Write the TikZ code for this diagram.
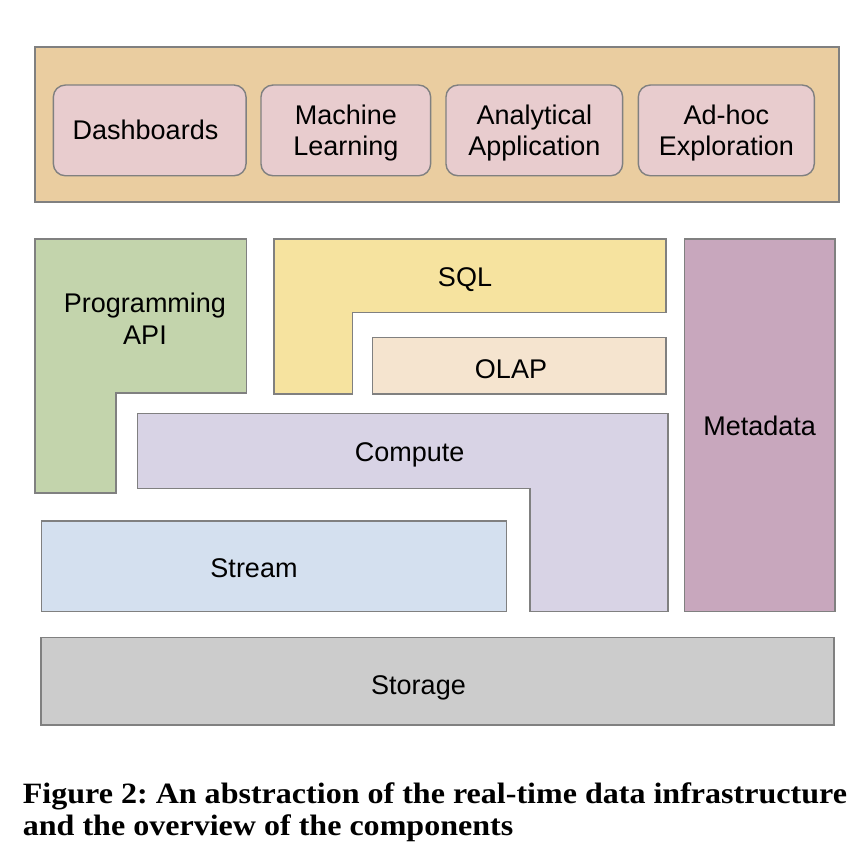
\documentclass[tikz,border=0pt]{standalone}
\usepackage{fontspec}
\setmainfont{Liberation Sans}
\newfontfamily\capfont{Liberation Serif}
\usepackage{graphicx}
\definecolor{edgegray}{HTML}{808080}
\definecolor{topfill}{HTML}{EACDA0}
\definecolor{appfill}{HTML}{E8CCCE}
\definecolor{apifill}{HTML}{C3D4AC}
\definecolor{sqlfill}{HTML}{F6E39F}
\definecolor{olapfill}{HTML}{F5E4CF}
\definecolor{compfill}{HTML}{D8D3E5}
\definecolor{streamfill}{HTML}{D4E0EF}
\definecolor{metafill}{HTML}{C8A7BD}
\definecolor{storfill}{HTML}{CCCCCC}
\newcommand\twoline[2]{\begin{tabular}[t]{@{}c@{}}#1\\#2\end{tabular}}
\tikzset{
  layer/.style={draw=edgegray, line width=1.4pt, line join=miter},
  appbox/.style={draw=edgegray, line width=1.4pt, fill=appfill, rectangle,
    rounded corners=12pt, minimum height=90.7pt, inner sep=0pt},
  lbl/.style={anchor=base, inner sep=0pt, text=black,
    font=\fontsize{27}{31.7}\selectfont},
}
\begin{document}
\begin{tikzpicture}[x=1pt,y=-1pt]
\useasboundingbox (0,0) rectangle (864,858);
% top application layer
\draw[layer, fill=topfill] (35,47) rectangle (839,202);
\node[appbox, minimum width=192.7pt] (dash) at (149.7,130.4) {};
\node[appbox, minimum width=169.7pt] (ml) at (345.8,130.4) {};
\node[appbox, minimum width=176.7pt] (aa) at (534.3,130.4) {};
\node[appbox, minimum width=176pt] (ae) at (726.3,130.4) {};
\node[lbl] (dasht) at (145.5,140) {Dashboards};
\node[lbl] (mlt) at (345.8,124.3) {\twoline{Machine}{Learning}};
\node[lbl] (aat) at (534.3,124.3) {\twoline{Analytical}{Application}};
\node[lbl] (aet) at (726.3,124.3) {\twoline{Ad-hoc}{Exploration}};
% programming API (L shape)
\draw[layer, fill=apifill] (35,239) -- (246.5,239) -- (246.5,393) -- (116,393)
  -- (116,493) -- (35,493) -- cycle;
\node[lbl] (apit) at (145,312.7) {\twoline{Programming}{API}};
% SQL (L shape)
\draw[layer, fill=sqlfill] (274,239) -- (666,239) -- (666,312.3) -- (352.7,312.3)
  -- (352.7,394) -- (274,394) -- cycle;
\node[lbl] (sqlt) at (465,286.7) {SQL};
% OLAP
\draw[layer, fill=olapfill] (372.7,337.7) rectangle (666,394);
\node[lbl] (olapt) at (511,378) {OLAP};
% Compute (L shape)
\draw[layer, fill=compfill] (137.3,413.3) -- (668,413.3) -- (668,611.7) -- (530,611.7)
  -- (530,488.7) -- (137.3,488.7) -- cycle;
\node[lbl] (compt) at (409.6,461) {Compute};
% Stream
\draw[layer, fill=streamfill] (41.3,521) rectangle (506.4,611.7);
\node[lbl] (streamt) at (254,577) {Stream};
% Metadata
\draw[layer, fill=metafill] (684.5,239) rectangle (835,611.7);
\node[lbl] (metat) at (759.7,435) {Metadata};
% Storage
\draw[layer, fill=storfill] (40.8,637.5) rectangle (834,725);
\node[lbl] (stort) at (418.5,694) {Storage};
% caption
\node[anchor=base west, inner sep=0pt] (cap) at (22.7,803.5)
  {\resizebox{824pt}{\height}{\capfont\bfseries\frenchspacing\fontsize{29.5}{32}\selectfont
   \begin{tabular}[t]{@{}l@{}}Figure 2: An abstraction of the real-time data infrastructure\\
   and the overview of the components\end{tabular}}};
\end{tikzpicture}
\end{document}
